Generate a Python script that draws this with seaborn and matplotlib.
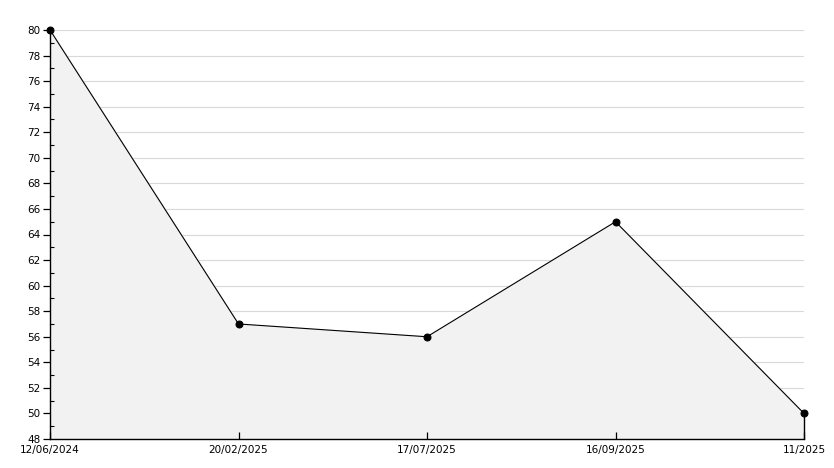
import matplotlib
matplotlib.use("Agg")
import matplotlib.pyplot as plt
import pandas as pd
import seaborn as sb
from matplotlib.ticker import MultipleLocator

# data
dates = ["12/06/2024", "20/02/2025", "17/07/2025", "16/09/2025", "11/2025"]
values = [80, 57, 56, 65, 50]
grid_levels = list(range(50, 81, 2))

df = pd.DataFrame({"pos": range(len(dates)), "value": values})

sb.set_style("ticks")
plt.rcParams["font.family"] = ["DejaVu Sans"]
plt.rcParams["text.color"] = "black"

fig = plt.figure(figsize=(8.34, 4.68), dpi=100)
ax = fig.add_axes([50 / 834, 29 / 468, 754 / 834, 409 / 468])

ax.set_ylim(48, 80)
ax.set_xlim(0, len(dates) - 1)
ax.set_axisbelow(False)

# grid lines sit under the filled area
for g in grid_levels:
    ax.axhline(g, color="#d9d9d9", linewidth=0.8, zorder=0.5)

ax.fill_between(df["pos"], df["value"], 48, color="#f2f2f2", zorder=1)
sb.lineplot(x="pos", y="value", data=df, color="black", linewidth=0.8,
            marker="o", markersize=5, markeredgecolor="black", ax=ax,
            zorder=4, clip_on=False)
# closing edge on the right
ax.plot([df["pos"].iloc[-1]] * 2, [48, values[-1]], color="black",
        linewidth=1, zorder=3, clip_on=False)

ax.set_xticks(df["pos"])
ax.set_xticklabels(dates)
ax.yaxis.set_major_locator(MultipleLocator(2))
ax.yaxis.set_minor_locator(MultipleLocator(1))
ax.tick_params(axis="y", which="major", direction="out", length=5, width=0.9,
               color="black", labelcolor="black", labelsize=7.5, pad=2, left=True)
ax.tick_params(axis="y", which="minor", direction="in", length=3, width=0.8,
               color="black", left=True)
ax.tick_params(axis="x", which="major", direction="in", length=5, width=0.9,
               color="black", labelcolor="black", labelsize=7.5, pad=4, bottom=True)
ax.tick_params(axis="x", which="minor", bottom=False)

for s in ["top", "right"]:
    ax.spines[s].set_visible(False)
for s in ["left", "bottom"]:
    ax.spines[s].set_color("black")
    ax.spines[s].set_linewidth(1)
    ax.spines[s].set_zorder(5)

ax.set_xlabel("")
ax.set_ylabel("")

fig.savefig("out.png", dpi=100)
